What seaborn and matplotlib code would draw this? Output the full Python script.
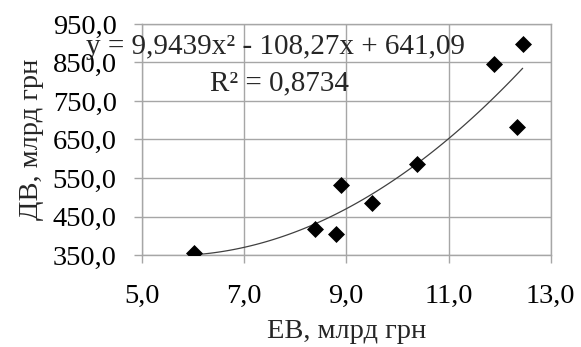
import numpy as np
import pandas as pd
import matplotlib
matplotlib.use("Agg")
import matplotlib.pyplot as plt
from matplotlib.ticker import FuncFormatter
import seaborn as sns

# data
ev = [6.02, 8.38, 8.79, 8.89, 9.51, 10.38, 11.88, 12.33, 12.45]
dv = [356.0, 416.5, 403.5, 533.0, 484.0, 587.5, 846.5, 681.5, 897.5]
eq_text = "y = 9,9439x² - 108,27x + 641,09"
r2_text = "R² = 0,8734"
x_ticks = [5.0, 7.0, 9.0, 11.0, 13.0]
y_ticks = [350.0, 450.0, 550.0, 650.0, 750.0, 850.0, 950.0]

df = pd.DataFrame({"ev": ev, "dv": dv})

sns.set_theme(style="white")
plt.rcParams["font.family"] = ["Liberation Serif", "DejaVu Serif"]

FS = 20.5
GRID = "#a6a6a6"

fig, ax = plt.subplots(figsize=(5.81, 3.47), dpi=100)
fig.subplots_adjust(left=0.244, right=0.948, top=0.931, bottom=0.265)

ax.grid(True, color=GRID, linewidth=1.0)
ax.set_axisbelow(True)

sns.regplot(data=df, x="ev", y="dv", order=2, ci=None, scatter=False,
            truncate=True, ax=ax, line_kws=dict(color="#404040", linewidth=0.9))
sns.scatterplot(data=df, x="ev", y="dv", marker="D", s=75, color="black",
                edgecolor="black", linewidth=0, ax=ax, zorder=3)

ax.set_xlim(x_ticks[0], x_ticks[-1])
ax.set_ylim(y_ticks[0], y_ticks[-1])
ax.set_xticks(x_ticks)
ax.set_yticks(y_ticks)
fmt = FuncFormatter(lambda v, p: f"{v:.1f}".replace(".", ","))
ax.xaxis.set_major_formatter(fmt)
ax.yaxis.set_major_formatter(fmt)
ax.tick_params(axis="both", labelsize=FS, length=6, color=GRID,
               width=1.0, bottom=True, left=True, labelcolor="black")
ax.tick_params(axis="x", pad=15)
ax.tick_params(axis="y", pad=12)
for s in ax.spines.values():
    s.set_color(GRID)
    s.set_linewidth(1.0)

ax.set_xlabel("ЕВ, млрд грн", fontsize=FS, labelpad=7)
ax.set_ylabel("ДВ, млрд грн", fontsize=FS, labelpad=6)

ax.text(275.5 / 581, 1 - 47 / 347, eq_text, transform=fig.transFigure,
        fontsize=21, ha="center", va="center")
ax.text(279 / 581, 1 - 83 / 347, r2_text, transform=fig.transFigure,
        fontsize=21, ha="center", va="center")

plt.savefig("out.png", dpi=100)
plt.close()
